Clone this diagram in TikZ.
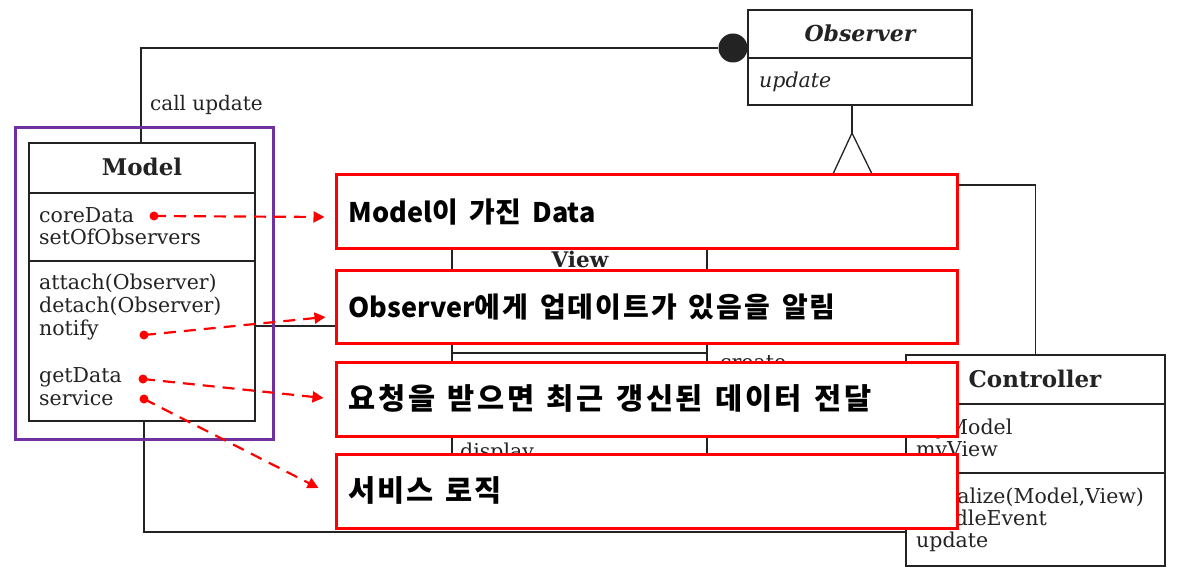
\documentclass[tikz,border=0pt]{standalone}
\usepackage{fontspec}
\setmainfont{DejaVu Serif}
\newfontfamily\kr{Noto Sans CJK KR}[WordSpace=1.6]
\usetikzlibrary{arrows.meta}
\definecolor{mpurple}{RGB}{112,48,160}
\definecolor{mred}{RGB}{255,0,0}
\definecolor{ink}{RGB}{35,35,35}
\def\hgs{28}
\newcommand\hg[2][0pt]{{\fontsize{\hgs}{32}\selectfont\def\hgk{#1}\hgaux#2\relax}}
\def\hgaux#1{\ifx\relax#1\else#1\kern\hgk\relax\expandafter\hgaux\fi}
\begin{document}
\begin{tikzpicture}[x=1pt,y=-1pt,
  uml/.style={draw=ink, line width=1.3pt, inner sep=0pt, fill=white},
  umlline/.style={draw=ink, line width=1.3pt},
  ttl/.style={font=\fontsize{23}{27}\selectfont\bfseries, text=ink, inner sep=0pt, anchor=base},
  itm/.style={font=\fontsize{20.5}{24}\selectfont, text=ink, anchor=base west, inner sep=0pt},
  note/.style={draw=mred, line width=3pt, fill=white, minimum width=621pt, minimum height=74pt, inner sep=0pt},
  notetxt/.style={anchor=base west, inner sep=0pt, font=\kr\fontsize{27}{32}\selectfont\bfseries},
  ptr/.style={draw=mred, line width=2.2pt, dash pattern=on 12pt off 8pt, -{Triangle[length=11pt,width=11pt]}},
  dotc/.style={circle, fill=mred, minimum size=9pt, inner sep=0pt},
]
\useasboundingbox[fill=white] (0,0) rectangle (1177,577);

% ---------- UML boxes ----------
\node[uml, minimum width=226pt, minimum height=278pt] (model) at (142,282) {};
\draw[umlline] (model.west |- 0,193) -- (model.east |- 0,193);
\draw[umlline] (model.west |- 0,261) -- (model.east |- 0,261);
\node[ttl] (modelT) at (142,176) {Model};
\node[itm] (m1) at (39,223) {coreData};
\node[itm] (m2) at (39,245) {setOfObservers};
\node[itm] (m3) at (39,289) {attach(Observer)};
\node[itm] (m4) at (39,312) {detach(Observer)};
\node[itm] (m5) at (39,335) {notify};
\node[itm] (m6) at (39,382) {getData};
\node[itm] (m7) at (39,405) {service};

\node[uml, minimum width=224pt, minimum height=95pt] (obs) at (860,57.5) {};
\draw[umlline] (obs.west |- 0,58) -- (obs.east |- 0,58);
\node[ttl, font=\fontsize{22}{26}\selectfont\bfseries\itshape] (obsT) at (860,42) {Observer};
\node[itm, font=\fontsize{20.5}{24}\selectfont\itshape] (o1) at (759,88) {update};

\node[uml, minimum width=255pt, minimum height=245pt] (view) at (579.5,357.5) {};
\draw[umlline] (view.west |- 0,285) -- (view.east |- 0,285);
\draw[umlline] (view.west |- 0,353) -- (view.east |- 0,353);
\node[ttl, font=\fontsize{21.5}{26}\selectfont\bfseries] (viewT) at (580,268) {View};
\node[itm] (v1) at (460,458) {display};
\node[itm] (v2) at (720,369) {create};

\node[uml, minimum width=259pt, minimum height=211pt] (ctrl) at (1035.5,460.5) {};
\draw[umlline] (ctrl.west |- 0,404) -- (ctrl.east |- 0,404);
\draw[umlline] (ctrl.west |- 0,473) -- (ctrl.east |- 0,473);
\node[ttl] (ctrlT) at (1035,387) {Controller};
\node[itm] (c1) at (916,434) {myModel};
\node[itm] (c2) at (916,456) {myView};
\node[itm] (c3) at (916,503) {initialize(Model,View)};
\node[itm] (c4) at (916,525) {handleEvent};
\node[itm] (c5) at (916,547) {update};

% ---------- UML connectors ----------
\node[circle, fill=ink, minimum size=29pt, inner sep=0pt] (agg) at (733,48) {};
\draw[umlline] ([xshift=-1pt]model.north) |- (agg);
\node[itm, font=\fontsize{20}{24}\selectfont] (call) at (150,111) {call update};

\coordinate (apex) at (852,133);
\coordinate (tb) at (852,174);
\draw[umlline] (apex |- obs.south) -- (apex);
\draw[umlline, fill=white] (833,174) -- (apex) -- (872,174) -- cycle;
\draw[umlline] (tb) -- (852,185) -| (ctrl.north);

\draw[umlline] (model.east |- 0,326) -- (view.west |- 0,326);
\draw[umlline] ([xshift=2pt]model.south) |- (ctrl.west |- 0,532);

% ---------- highlight frame ----------
\node[draw=mpurple, line width=3pt, minimum width=258pt, minimum height=311pt, inner sep=0pt] (frame) at (144,283.5) {};

% ---------- notes ----------
\node[note] (n1) at (646.5,212) {};
\node[note, minimum height=73pt] (n2) at (646.5,306.5) {};
\node[note] (n3) at (646.5,399) {};
\node[note] (n4) at (646.5,491) {};
\node[notetxt] (n1t) at ([xshift=14pt,yshift=-10.5pt]n1.west) {Model\hg[1pt]{이} \hg[1pt]{가진} Data};
\node[notetxt] (n2t) at ([xshift=14pt,yshift=-10.5pt]n2.west) {Observer\hg[2pt]{에게} \hg[2pt]{업데이트가} \hg[2pt]{있음을} \hg[2pt]{알림}};
\node[notetxt] (n3t) at ([xshift=14pt,yshift=-10pt]n3.west) {\def\hgs{29.5}\hg[2.6pt]{요청을} \hg[2.6pt]{받으면} \hg[2.6pt]{최근} \hg[2.6pt]{갱신된} \hg[2.6pt]{데이터} \hg[2.6pt]{전달}};
\node[notetxt] (n4t) at ([xshift=14pt,yshift=-10pt]n4.west) {\def\hgs{29.5}\hg[1.8pt]{서비스} \hg[1.8pt]{로직}};

% ---------- pointers ----------
\node[dotc] (d1) at (154,216) {};
\node[dotc] (d2) at (144,335) {};
\node[dotc] (d3) at (143,379) {};
\node[dotc] (d4) at (144,399) {};
\draw[ptr] (d1.center) -- ([xshift=-10pt,yshift=-5pt]n1.west);
\draw[ptr] (d2.center) -- ([xshift=-9pt,yshift=-10.5pt]n2.west);
\draw[ptr] (d3.center) -- ([xshift=-11pt,yshift=1pt]n3.west);
\draw[ptr] (d4.center) -- ([xshift=-16pt,yshift=3pt]n4.west);
\end{tikzpicture}
\end{document}
